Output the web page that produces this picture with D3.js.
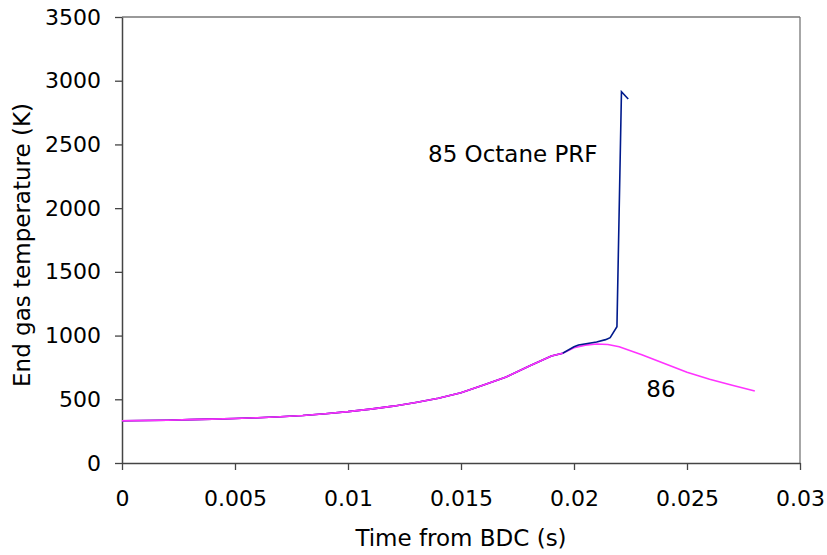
<!DOCTYPE html>
<html>
<head>
<meta charset="utf-8">
<script src="https://cdn.jsdelivr.net/npm/d3@7"></script>
<style>
  body { margin: 0; background: #fff; }
  svg text { font-family: "DejaVu Sans", Verdana, sans-serif; fill: #000; }
</style>
</head>
<body>
<svg id="chart" width="827" height="555"></svg>
<script>
// 86 octane PRF run (no knock)
const time86 = [0, 0.001, 0.002, 0.003, 0.004, 0.005, 0.006, 0.007, 0.008, 0.009,
  0.010, 0.011, 0.012, 0.013, 0.014, 0.015, 0.016, 0.017, 0.018, 0.019, 0.0195,
  0.020, 0.0205, 0.021, 0.0215, 0.022, 0.023, 0.024, 0.025, 0.026, 0.027, 0.028]
const temp86 = [332, 334, 336, 340, 344, 349, 355, 363, 373, 387,
  403, 423, 446, 475, 508, 552, 612, 675, 760, 840, 862,
  905, 925, 934, 930, 913, 850, 780, 712, 658, 610, 565]

// 85 octane PRF run (knocks)
const time85 = [0, 0.001, 0.002, 0.003, 0.004, 0.005, 0.006, 0.007, 0.008, 0.009,
  0.010, 0.011, 0.012, 0.013, 0.014, 0.015, 0.016, 0.017, 0.018, 0.019, 0.0195,
  0.020, 0.0202, 0.021, 0.0214, 0.0216, 0.0219, 0.0221, 0.0224]
const temp85 = [332, 334, 336, 340, 344, 349, 355, 363, 373, 387,
  403, 423, 446, 475, 508, 552, 612, 675, 760, 840, 862,
  912, 926, 950, 968, 984, 1070, 2914, 2857]

const xTicks = [0, 0.005, 0.01, 0.015, 0.02, 0.025, 0.03]
const yTicks = [0, 500, 1000, 1500, 2000, 2500, 3000, 3500]

const margin = { top: 17, right: 27, bottom: 92, left: 122 }
const width = 827 - margin.left - margin.right
const height = 555 - margin.top - margin.bottom
const fontSize = '23px'
const tickFont = '22px'

const svg = d3.select('#chart')
const g = svg.append('g').attr('transform', `translate(${margin.left}, ${margin.top})`)

const x = d3.scaleLinear().domain([0, 0.03]).range([0, width])
const y = d3.scaleLinear().domain([0, 3500]).range([height, 0])

// frame: top and right in grey
g.append('line').attr('x1', 0).attr('x2', width).attr('y1', 0).attr('y2', 0)
  .attr('stroke', '#777').attr('stroke-width', 1.3)
g.append('line').attr('x1', width).attr('x2', width).attr('y1', 0).attr('y2', height)
  .attr('stroke', '#777').attr('stroke-width', 1.3)

const xAxis = d3.axisBottom(x).tickValues(xTicks).tickSize(7).tickSizeOuter(0)
  .tickFormat(d => String(d))
const yAxis = d3.axisLeft(y).tickValues(yTicks).tickSize(7).tickSizeOuter(0)
  .tickFormat(d => String(d))

const gx = g.append('g').attr('transform', `translate(0, ${height})`).call(xAxis)
const gy = g.append('g').call(yAxis)

gx.selectAll('text').attr('dy', '1.5em').attr('font-size', tickFont)
gy.selectAll('text').attr('dx', '-0.5em').attr('font-size', tickFont)
g.selectAll('.tick line').attr('stroke', '#444').attr('stroke-width', 1.3)
g.selectAll('.domain').attr('stroke', '#444').attr('stroke-width', 1.5)

const line = d3.line().x(d => x(d[0])).y(d => y(d[1]))

g.append('path')
  .datum(d3.zip(time86, temp86))
  .attr('fill', 'none')
  .attr('stroke', '#ff33ff')
  .attr('stroke-width', 1.6)
  .attr('d', line)

g.append('path')
  .datum(d3.zip(time85, temp85))
  .attr('fill', 'none')
  .attr('stroke', '#001a8c')
  .attr('stroke-width', 1.6)
  .attr('d', line)

// lay the pink over the shared part so the pre-knock section reads pink
g.append('path')
  .datum(d3.zip(time86, temp86).filter(d => d[0] <= 0.0195))
  .attr('fill', 'none')
  .attr('stroke', '#ff33ff')
  .attr('stroke-width', 1.6)
  .attr('d', line)

g.append('text').attr('x', x(0.01354)).attr('y', y(2365))
  .attr('font-size', fontSize).text('85 Octane PRF')
g.append('text').attr('x', x(0.0232)).attr('y', y(518))
  .attr('font-size', fontSize).text('86')

svg.append('text')
  .attr('x', margin.left + width / 2).attr('y', 546)
  .attr('text-anchor', 'middle').attr('font-size', fontSize)
  .text('Time from BDC (s)')

svg.append('text')
  .attr('transform', `translate(30, 245) rotate(-90)`)
  .attr('text-anchor', 'middle').attr('font-size', fontSize)
  .text('End gas temperature (K)')
</script>
</body>
</html>
